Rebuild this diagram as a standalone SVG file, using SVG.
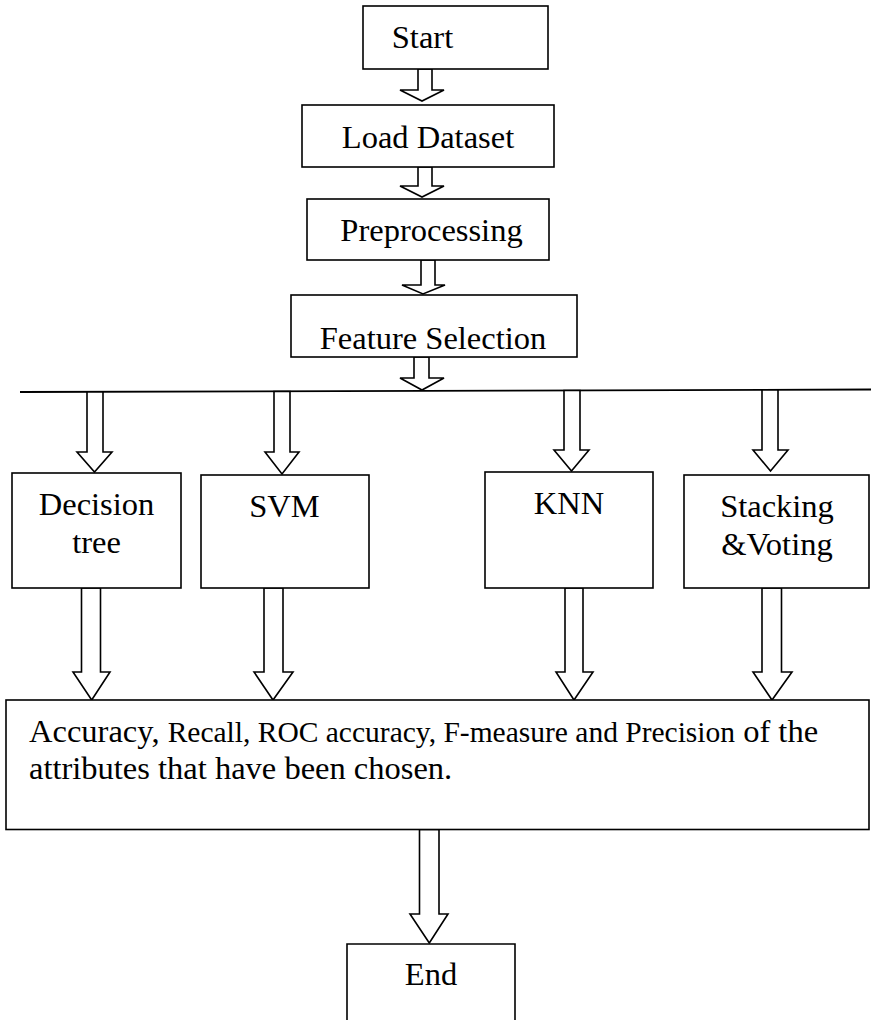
<svg xmlns="http://www.w3.org/2000/svg" width="871" height="1020" viewBox="0 0 871 1020">
  <style>
    .box { fill: #ffffff; stroke: #000000; stroke-width: 1.6; }
    .arrow { fill: #ffffff; stroke: #000000; stroke-width: 1.6; stroke-linejoin: miter; }
    .bus { stroke: #000000; stroke-width: 1.8; fill: none; }
    .label { font-family: "Liberation Serif", "Times New Roman", serif; font-size: 32.5px; fill: #000000; text-anchor: middle; }
    .body { font-family: "Liberation Serif", "Times New Roman", serif; fill: #000000; }
  </style>
  <rect width="871" height="1020" fill="#ffffff"/>

  <!-- block arrows and the distribution bar -->
  <g id="connectors">
    <polygon class="arrow" points="418,69 432,69 432,90 444,90 422,101 400,90 418,90"/>
    <polygon class="arrow" points="418,167 432,167 432,186 444,186 422,197 400,186 418,186"/>
    <polygon class="arrow" points="421,260 435,260 435,285 445,285 423,294 402,285 421,285"/>
    <polygon class="arrow" points="414,357 429,357 429,378 444,378 422,390 400,378 414,378"/>

    <line class="bus" x1="20" y1="392" x2="871" y2="389.5"/>

    <polygon class="arrow" points="87,392 103,392 103,452 112,452 94.5,472 77,452 87,452"/>
    <polygon class="arrow" points="274,391.5 290,391.5 290,452 299,452 282,474 265,452 274,452"/>
    <polygon class="arrow" points="564,390.5 580,390.5 580,450 589,450 571.5,471 554,450 564,450"/>
    <polygon class="arrow" points="762,390 778,390 778,450 788,450 770.5,471 753,450 762,450"/>

    <polygon class="arrow" points="81.5,588 100.5,588 100.5,672 110,672 91.7,700 73,672 81.5,672"/>
    <polygon class="arrow" points="264,588 283,588 283,672 293,672 273,700 254,672 264,672"/>
    <polygon class="arrow" points="565,588 583,588 583,672 593,672 574,700 556,672 565,672"/>
    <polygon class="arrow" points="762,588 781.5,588 781.5,672 792,672 772,700 753,672 762,672"/>

    <polygon class="arrow" points="419.5,829.5 439,829.5 439,914 448,914 429.3,943 410,914 419.5,914"/>
  </g>

  <g id="start">
    <rect class="box" x="363" y="6" width="185" height="63"/>
    <text class="label" x="422.5" y="48">Start</text>
  </g>

  <g id="load-dataset">
    <rect class="box" x="302" y="105" width="252" height="62"/>
    <text class="label" x="428" y="148">Load Dataset</text>
  </g>

  <g id="preprocessing">
    <rect class="box" x="307" y="199" width="242" height="61"/>
    <text class="label" x="431.5" y="241">Preprocessing</text>
  </g>

  <g id="feature-selection">
    <rect class="box" x="291" y="295" width="286" height="62"/>
    <text class="label" x="433" y="349">Feature Selection</text>
  </g>

  <g id="decision-tree">
    <rect class="box" x="12" y="473" width="169" height="115"/>
    <text class="label" x="96.5" y="515">Decision</text>
    <text class="label" x="96.5" y="553">tree</text>
  </g>

  <g id="svm">
    <rect class="box" x="201" y="475" width="168" height="113"/>
    <text class="label" x="284.5" y="517">SVM</text>
  </g>

  <g id="knn">
    <rect class="box" x="485" y="472" width="168" height="116"/>
    <text class="label" x="569" y="514">KNN</text>
  </g>

  <g id="stacking-voting">
    <rect class="box" x="684" y="475" width="185" height="113"/>
    <text class="label" x="777" y="517">Stacking</text>
    <text class="label" x="777" y="555">&amp;Voting</text>
  </g>

  <g id="metrics">
    <rect class="box" x="6" y="700" width="863" height="129.5"/>
    <text class="body" x="29" y="742"><tspan font-size="32.5">Accuracy, </tspan><tspan font-size="29.5">Recall, ROC accuracy, F-measure and Precision</tspan><tspan font-size="32.5"> of the</tspan></text>
    <text class="body" x="29" y="779" font-size="32.5">attributes that have been chosen.</text>
  </g>

  <g id="end">
    <path class="box" d="M347,1030 V944 H515 V1030"/>
    <text class="label" x="431" y="985">End</text>
  </g>
</svg>
